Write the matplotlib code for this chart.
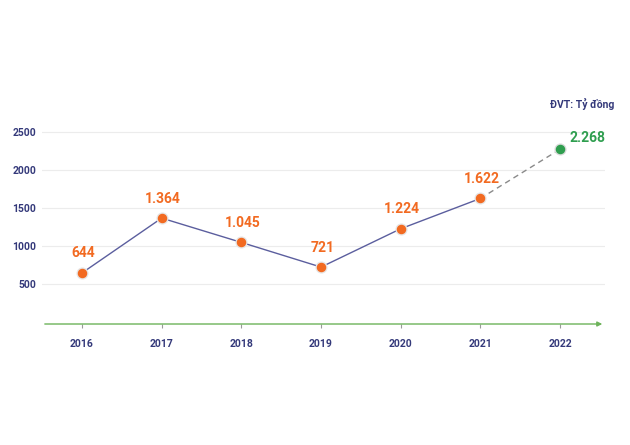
import matplotlib
matplotlib.use("Agg")
import matplotlib.pyplot as plt

years = [2016, 2017, 2018, 2019, 2020, 2021, 2022]
values = [644, 1364, 1045, 721, 1224, 1622, 2268]
labels = ["644", "1.364", "1.045", "721", "1.224", "1.622", "2.268"]
yticks = [500, 1000, 1500, 2000, 2500]

navy = "#34397a"
orange = "#f26a21"
green = "#2f9e4f"

plt.rcParams['font.family'] = ['Roboto', 'DejaVu Sans']

fig = plt.figure(figsize=(6.3, 4.45), dpi=100)
ax = fig.add_axes([0.0667, 0.2719, 0.8937, 0.4667])
ax.set_xlim(2015.498, 2022.565)
ax.set_ylim(-26, 2700)

for y in yticks:
    ax.axhline(y, color="#ececec", lw=0.8, zorder=0)

# actual series + 2022 dashed
ax.plot(years[:-1], values[:-1], color="#5b5e9e", lw=1.0, zorder=2)
ax.plot(years[-2:], values[-2:], color="#8a8a8a", lw=1.0, ls=(0, (4, 3)), zorder=2)
ax.scatter(years[:-1], values[:-1], s=60, color="#e6e6e6", zorder=3)
ax.scatter(years[:-1], values[:-1], s=34, color=orange, zorder=4)
ax.scatter(years[-1:], values[-1:], s=60, color="#dcdcdc", zorder=3)
ax.scatter(years[-1:], values[-1:], s=34, color=green, zorder=4)

for x, v, t in zip(years[:-1], values[:-1], labels[:-1]):
    ax.annotate(t, (x, v), xytext=(1, 9), textcoords="offset points",
                ha="center", va="bottom", color=orange, fontsize=10, fontweight="bold")
ax.annotate(labels[-1], (years[-1], values[-1]), xytext=(7, 3), textcoords="offset points",
            ha="left", va="bottom", color=green, fontsize=10, fontweight="bold")

for s in ["top", "right", "left", "bottom"]:
    ax.spines[s].set_visible(False)
ax.annotate("", xy=(1.0, 0), xytext=(0, 0), xycoords="axes fraction",
            arrowprops=dict(arrowstyle="-|>", color="#6db35a", lw=1.0, mutation_scale=7))

ax.set_xticks(years)
ax.set_xticklabels([str(y) for y in years])
ax.set_yticks(yticks)
ax.tick_params(axis="x", length=3, color="#9a9a9a", pad=8, labelsize=7.5, labelcolor=navy)
ax.tick_params(axis="y", length=0, pad=4, labelsize=7.5, labelcolor=navy)
for lab in ax.get_xticklabels() + ax.get_yticklabels():
    lab.set_fontweight("bold")

fig.text(0.975, 0.766, "ĐVT: Tỷ đồng", ha="right", va="center", color=navy,
         fontsize=7.5, fontweight="bold")

fig.savefig("out.png", dpi=100)
